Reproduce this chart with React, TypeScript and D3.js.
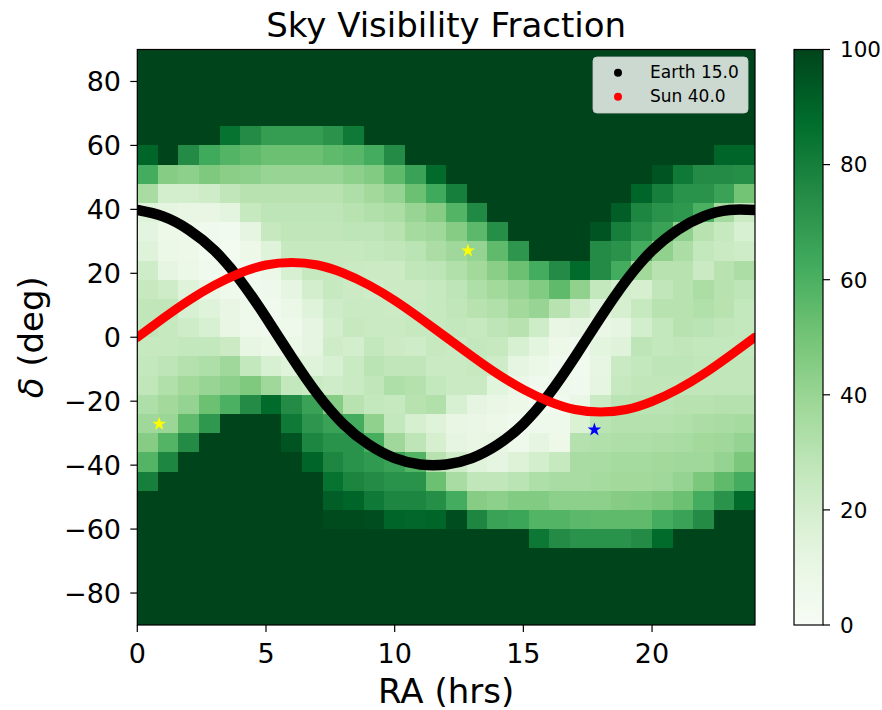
import React from "react";
import * as d3 from "d3";

// ---------- data ----------
const raTicks = [0, 5, 10, 15, 20];
const decTicks = [-80, -60, -40, -20, 0, 20, 40, 60, 80];
const cbarTicks = [0, 20, 40, 60, 80, 100];
const raBinWidth = 0.8; // hours per column
const decBinWidth = 6; // degrees per row
const decTop = 90;

// visibility fraction (%) rows from dec +90 (top) to -90 (bottom), columns RA 0 -> 24 h
const visibility: number[][] = [
  [100,100,100,100,100,100,100,100,100,100,100,100,100,100,100,100,100,100,100,100,100,100,100,100,100,100,100,100,100,100],
  [100,100,100,100,100,100,100,100,100,100,100,100,100,100,100,100,100,100,100,100,100,100,100,100,100,100,100,100,100,100],
  [100,100,100,100,100,100,100,100,100,100,100,100,100,100,100,100,100,100,100,100,100,100,100,100,100,100,100,100,100,100],
  [100,100,100,100,100,100,100,100,100,100,100,100,100,100,100,100,100,100,100,100,100,100,100,100,100,100,100,100,100,100],
  [100,100,100,100,85,75,68,68,68,72,82,100,100,100,100,100,100,100,100,100,100,100,100,100,100,100,100,100,100,100],
  [90,100,75,63,58,55,52,52,52,55,57,62,75,100,100,100,100,100,100,100,100,100,100,100,100,100,100,100,90,90],
  [62,45,43,47,44,43,40,40,40,40,43,46,55,66,88,100,100,100,100,100,100,100,100,100,100,95,82,75,75,74],
  [35,20,20,22,27,30,30,30,30,30,33,37,41,52,63,80,100,100,100,100,100,100,100,100,90,80,72,72,66,50],
  [15,12,10,10,13,25,28,28,28,28,30,32,34,40,45,58,76,100,100,100,100,100,100,92,77,72,70,60,36,24],
  [13,7,7,5,4,12,25,27,27,27,28,28,30,36,38,45,56,74,100,100,100,100,95,80,72,66,42,30,25,18],
  [15,8,7,4,3,7,15,25,25,25,25,26,27,29,34,38,41,55,71,100,100,100,75,72,62,42,34,26,24,22],
  [22,12,8,5,4,5,8,18,25,25,24,23,23,27,28,32,37,44,52,62,75,88,75,62,37,30,30,24,30,34],
  [25,22,15,10,6,5,6,12,20,25,23,22,23,23,25,28,33,37,41,46,55,42,26,20,19,27,30,34,30,28],
  [27,27,18,15,10,6,5,8,15,22,24,24,23,24,25,27,30,32,37,40,30,22,15,19,25,30,30,32,30,26],
  [27,25,22,18,10,6,5,6,12,20,25,24,24,25,25,26,25,28,30,22,10,12,9,12,20,26,30,29,27,26],
  [25,25,26,26,23,11,8,8,12,22,20,26,23,22,25,24,26,25,18,13,7,5,13,15,28,26,27,26,26,26],
  [26,28,31,33,38,26,18,15,15,18,24,29,27,27,24,24,25,22,12,8,5,4,11,24,26,28,28,27,27,27],
  [27,32,37,40,43,47,38,26,24,22,24,27,33,31,26,24,24,14,9,5,6,5,12,25,27,27,27,27,27,27],
  [33,37,41,52,60,75,88,75,66,45,30,26,25,30,32,18,12,9,7,4,5,9,24,29,29,29,30,30,31,31],
  [38,39,55,70,100,100,100,82,71,66,62,42,26,19,15,10,9,7,5,6,6,17,29,31,31,31,32,34,35,36],
  [45,58,75,100,100,100,100,95,77,72,72,61,38,28,19,12,10,11,6,12,7,31,32,33,33,34,35,37,38,41],
  [58,77,100,100,100,100,100,100,90,77,72,69,66,58,30,22,15,12,16,20,25,35,35,36,36,37,38,38,41,48],
  [80,100,100,100,100,100,100,100,100,85,78,75,72,72,52,35,27,27,29,33,35,35,36,37,37,38,41,48,55,62],
  [100,100,100,100,100,100,100,100,100,92,90,82,77,77,74,62,45,43,46,46,43,43,43,45,46,48,52,62,72,88],
  [100,100,100,100,100,100,100,100,100,98,98,97,90,89,90,97,77,66,65,58,58,56,55,55,55,62,66,75,100,100],
  [100,100,100,100,100,100,100,100,100,100,100,100,100,100,100,100,100,100,100,83,75,72,72,72,75,88,100,100,100,100],
  [100,100,100,100,100,100,100,100,100,100,100,100,100,100,100,100,100,100,100,100,100,100,100,100,100,100,100,100,100,100],
  [100,100,100,100,100,100,100,100,100,100,100,100,100,100,100,100,100,100,100,100,100,100,100,100,100,100,100,100,100,100],
  [100,100,100,100,100,100,100,100,100,100,100,100,100,100,100,100,100,100,100,100,100,100,100,100,100,100,100,100,100,100],
  [100,100,100,100,100,100,100,100,100,100,100,100,100,100,100,100,100,100,100,100,100,100,100,100,100,100,100,100,100,100],
];

// curves (RA hours, dec degrees)
const curveRA = [0,1,2,3,4,5,6,7,8,9,10,11,12,13,14,15,16,17,18,19,20,21,22,23,24];
const earthDec = [39.8,37.8,33.6,27.1,17.8,6.2,-6.2,-17.8,-27.1,-33.6,-37.8,-39.8,-39.8,-37.8,-33.6,-27.1,-17.8,-6.2,6.2,17.8,27.1,33.6,37.8,39.8,39.8];
const sunDec = [0,5.9,11.5,16.3,20.1,22.6,23.4,22.6,20.1,16.3,11.5,5.9,0,-5.9,-11.5,-16.3,-20.1,-22.6,-23.4,-22.6,-20.1,-16.3,-11.5,-5.9,0];

const yellowStarRA = [0.85, 12.85];
const yellowStarDec = [-27.1, 27.1];
const blueStarRA = [17.76];
const blueStarDec = [-28.9];

const legendLabels = ["Earth 15.0", "Sun 40.0"];
const legendColors = ["#000000", "#ff0000"];

const greens = ["#f7fcf5","#e5f5e0","#c7e9c0","#a1d99b","#74c476","#41ab5d","#238b45","#006d2c","#00441b"];

// ---------- layout ----------
const W = 882, H = 710;
const L = 137.3, R = 755, T = 49.5, B = 625;
const CB_L = 794, CB_W = 29;
const FONT = "'DejaVu Sans', sans-serif";

export default function App() {
  const x = d3.scaleLinear().domain([0, 24]).range([L, R]);
  const y = d3.scaleLinear().domain([-90, 90]).range([B, T]);
  const color = d3
    .scaleLinear<string>()
    .domain(greens.map((_, i) => (i * 100) / (greens.length - 1)))
    .range(greens)
    .interpolate(d3.interpolateRgb);
  const cy = d3.scaleLinear().domain([0, 100]).range([B, T]);

  const line = d3
    .line<number>()
    .x((_, i) => x(curveRA[i]))
    .curve(d3.curveNatural);
  const earthPath = line.y((d) => y(d))(earthDec) || "";
  const sunPath = line.y((d) => y(d))(sunDec) || "";
  const star = d3.symbol().type(d3.symbolStar).size(58)() || "";

  const cells: React.ReactNode[] = [];
  visibility.forEach((row, r) => {
    const hi = decTop - r * decBinWidth;
    const lo = hi - decBinWidth;
    row.forEach((v, c) => {
      const x0 = x(c * raBinWidth);
      const x1 = x((c + 1) * raBinWidth);
      cells.push(
        <rect
          key={`${r}-${c}`}
          x={x0}
          y={y(hi)}
          width={x1 - x0}
          height={y(lo) - y(hi)}
          fill={color(v)}
        />
      );
    });
  });

  return (
    <div style={{ position: "absolute", left: 0, top: 0 }}>
      <svg width={W} height={H} style={{ display: "block", background: "#fff" }} fontFamily={FONT}>
        <defs>
          <clipPath id="plotclip">
            <rect x={L} y={T} width={R - L} height={B - T} />
          </clipPath>
          <linearGradient id="cbgrad" x1="0" y1="1" x2="0" y2="0">
            {greens.map((c, i) => (
              <stop key={i} offset={`${(i * 100) / (greens.length - 1)}%`} stopColor={c} />
            ))}
          </linearGradient>
        </defs>

        <text x={(L + R) / 2} y={37} fontSize={34} textAnchor="middle" fill="#000">
          Sky Visibility Fraction
        </text>

        <g shapeRendering="crispEdges">{cells}</g>

        <g clipPath="url(#plotclip)">
          <path d={earthPath} fill="none" stroke="#000" strokeWidth={10.5} strokeLinecap="round" />
          <path d={sunPath} fill="none" stroke="#ff0000" strokeWidth={9} strokeLinecap="round" />
          {yellowStarRA.map((ra, i) => (
            <path key={`ys${i}`} d={star} transform={`translate(${x(ra)},${y(yellowStarDec[i])})`} fill="#ffff00" />
          ))}
          {blueStarRA.map((ra, i) => (
            <path key={`bs${i}`} d={star} transform={`translate(${x(ra)},${y(blueStarDec[i])})`} fill="#0000ff" />
          ))}
        </g>

        {/* legend */}
        <g>
          <rect x={593} y={57} width={155} height={56} rx={4} fill="#ffffff" fillOpacity={0.8} stroke="#cccccc" strokeOpacity={0.8} />
          {legendLabels.map((lab, i) => (
            <g key={lab}>
              <circle cx={618} cy={72.7 + i * 24} r={4} fill={legendColors[i]} />
              <text x={650} y={77.5 + i * 24} fontSize={17} fill="#000">
                {lab}
              </text>
            </g>
          ))}
        </g>

        {/* axes frame */}
        <rect x={L} y={T} width={R - L} height={B - T} fill="none" stroke="#000" strokeWidth={1.2} />

        {/* x ticks */}
        {raTicks.map((t) => (
          <g key={`xt${t}`}>
            <line x1={x(t)} x2={x(t)} y1={B} y2={B + 7} stroke="#000" strokeWidth={1.2} />
            <text x={x(t)} y={663} fontSize={27} textAnchor="middle" fill="#000">
              {t}
            </text>
          </g>
        ))}
        {/* y ticks */}
        {decTicks.map((t) => (
          <g key={`yt${t}`}>
            <line x1={L - 7} x2={L} y1={y(t)} y2={y(t)} stroke="#000" strokeWidth={1.2} />
            <text x={121} y={y(t) + 9.8} fontSize={27} textAnchor="end" fill="#000">
              {t < 0 ? `\u2212${Math.abs(t)}` : `${t}`}
            </text>
          </g>
        ))}

        <text x={(L + R) / 2} y={703} fontSize={34} textAnchor="middle" fill="#000">
          RA (hrs)
        </text>
        <text transform={`translate(43,${(T + B) / 2}) rotate(-90)`} fontSize={34} textAnchor="middle" fill="#000">
          <tspan fontStyle="italic">δ</tspan> (deg)
        </text>

        {/* colorbar */}
        <rect x={CB_L} y={T} width={CB_W} height={B - T} fill="url(#cbgrad)" />
        <rect x={CB_L} y={T} width={CB_W} height={B - T} fill="none" stroke="#000" strokeWidth={1.2} />
        {cbarTicks.map((t) => (
          <g key={`ct${t}`}>
            <line x1={CB_L + CB_W} x2={CB_L + CB_W + 7} y1={cy(t)} y2={cy(t)} stroke="#000" strokeWidth={1.2} />
            <text x={840} y={cy(t) + 7.8} fontSize={21.5} fill="#000">
              {t}
            </text>
          </g>
        ))}
      </svg>
    </div>
  );
}
